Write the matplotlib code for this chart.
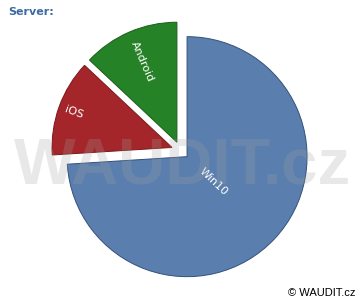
import matplotlib
matplotlib.use('Agg')
import numpy as np
import matplotlib.pyplot as plt

# ======= Data =======
labels = ['Win10', 'iOS', 'Android']
shares = [74, 13, 13]
colors = ['#5a7fae', '#a4262a', '#268226']
edges = ['#34507a', '#7a1a1c', '#1a5e1a']
label_pos = [0.3, 0.87, 0.73]   # label distance as fraction of radius

# ======= Figure =======
fig = plt.figure(figsize=(3.6, 3.0), dpi=100, facecolor='white')
ax = fig.add_axes([0, 0, 1, 1])

R = 120
wedges, texts = ax.pie(
    shares, labels=labels, colors=colors, startangle=90, counterclock=False,
    explode=[9] * 3, radius=R, center=(180.5, 149.5),
    labeldistance=0.5,
    wedgeprops=dict(linewidth=0.7),
    textprops=dict(color='white', fontsize=8, family='DejaVu Sans'),
)
for w, ec in zip(wedges, edges):
    w.set_edgecolor(ec)

# labels inside each exploded wedge, rotated radially
for w, t, d in zip(wedges, texts, label_pos):
    deg = (w.theta1 + w.theta2) / 2
    ang = np.deg2rad(deg)
    cx, cy = w.center
    t.set_position((cx + d * R * np.cos(ang), cy + d * R * np.sin(ang)))
    t.set_ha('center')
    t.set_va('center')
    t.set_rotation_mode('anchor')
    t.set_rotation(deg + 180 if np.cos(ang) < 0 else deg)

ax.set_xlim(0, 360)
ax.set_ylim(0, 300)
ax.set_aspect('equal')
ax.axis('off')

# watermark
ax.text(182, 117, 'WAUDIT.cz', fontsize=47, fontweight='bold',
        family='Liberation Sans', color='#a0a0a0', alpha=0.24,
        ha='center', va='baseline', zorder=5)

fig.text(8 / 360, 1 - 12 / 300, 'Server:', fontsize=8, fontweight='bold',
         color='#3d6aa0', ha='left', va='center', family='DejaVu Sans')
fig.text(355 / 360, 1 - 293 / 300, '\u00a9 WAUDIT.cz', fontsize=8,
         color='black', ha='right', va='center', family='Liberation Sans')

fig.savefig('out.png', dpi=100, facecolor='white')
